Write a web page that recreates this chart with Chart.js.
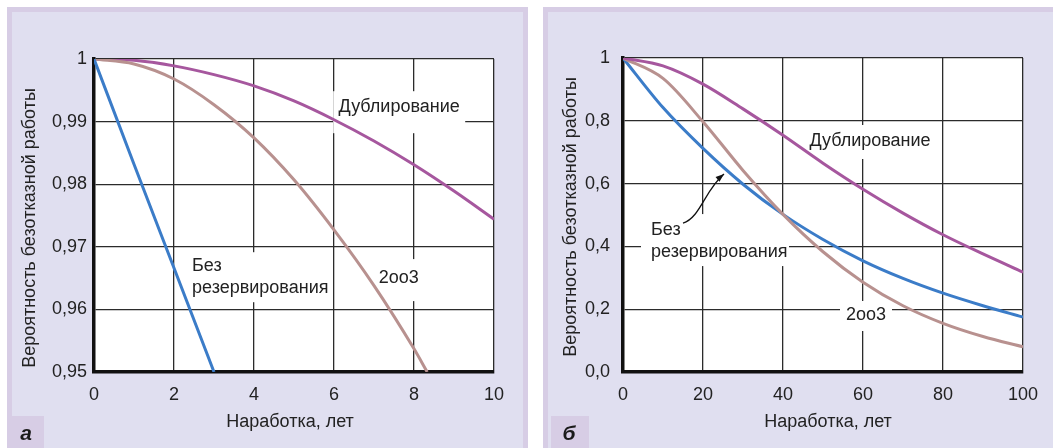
<!DOCTYPE html>
<html>
<head>
<meta charset="utf-8">
<script src="https://cdn.jsdelivr.net/npm/chart.js@4.4.1/dist/chart.umd.min.js"></script>
<style>
  html, body { margin: 0; padding: 0; background: #ffffff; width: 1053px; height: 448px; overflow: hidden; }
  .frame { position: absolute; background: #d7cde5; }
  .inner { position: absolute; background: #e0dff0; }
  canvas { position: absolute; }
</style>
</head>
<body>
<div class="frame" style="left:7px;top:7px;width:521px;height:441px;"></div>
<div class="inner" style="left:12px;top:12px;width:511px;height:436px;"></div>
<div class="frame" style="left:543px;top:7px;width:510px;height:441px;"></div>
<div class="inner" style="left:548px;top:12px;width:505px;height:436px;"></div>
<canvas id="chartA" width="511" height="436" style="left:12px;top:12px;"></canvas>
<canvas id="chartB" width="505" height="436" style="left:548px;top:12px;"></canvas>
<script>
// ---------- Data: panel а (0–10 years) ----------
const yearsNoRedA = [0, 1, 2, 3];
const noRedA      = [1, 0.9832, 0.9666, 0.9500];
const yearsDublA  = [0, 1, 2, 3, 4, 5, 6, 7, 8, 9, 10];
const dublA       = [1, 0.9998, 0.9989, 0.9975, 0.9957, 0.9933, 0.9903, 0.9869, 0.9831, 0.9789, 0.9744];
const years2oo3A  = [0, 1, 2, 3, 4, 5, 6, 7, 8, 8.33];
const twoOfThreeA = [1, 0.9992, 0.9968, 0.9927, 0.9874, 0.9807, 0.9727, 0.9638, 0.9537, 0.9500];
const xTicksA = ['0', '2', '4', '6', '8', '10'];
const yTicksA = ['0,95', '0,96', '0,97', '0,98', '0,99', '1'];

// ---------- Data: panel б (0–100 years) ----------
const yearsB      = [0, 10, 20, 30, 40, 50, 60, 70, 80, 90, 100];
const noRedB      = [1, 0.842, 0.712, 0.598, 0.502, 0.422, 0.354, 0.298, 0.251, 0.211, 0.175];
const dublB       = [1, 0.975, 0.917, 0.838, 0.754, 0.665, 0.582, 0.506, 0.437, 0.376, 0.318];
const twoOfThreeB = [1, 0.935, 0.797, 0.642, 0.502, 0.383, 0.286, 0.211, 0.155, 0.113, 0.080];
const xTicksB = ['0', '20', '40', '60', '80', '100'];
const yTicksB = ['0,0', '0,2', '0,4', '0,6', '0,8', '1'];

const seriesNames = ['Без резервирования', 'Дублирование', '2оо3'];
const yTitle = 'Вероятность безотказной работы';
const xTitle = 'Наработка, лет';

const COLORS = { noRed: '#3b7cc8', dubl: '#a6579e', two: '#b8918f' };
const FONT = '"Liberation Sans", Arial, sans-serif';
const FRAME = '#d7cde5';

function pts(xs, ys) { return xs.map((x, i) => ({ x: x, y: ys[i] })); }

function ds(label, data, color) {
  return {
    label: label, data: data, borderColor: color, borderWidth: 3,
    pointRadius: 0, fill: false, cubicInterpolationMode: 'monotone'
  };
}

function makePlugin(cfg) {
  return {
    id: 'decor',
    beforeDraw(chart) {
      const ctx = chart.ctx, a = chart.chartArea;
      ctx.save();
      ctx.fillStyle = '#ffffff';
      ctx.fillRect(a.left, a.top, a.right - a.left, a.bottom - a.top);
      ctx.fillStyle = FRAME;
      ctx.fillRect(cfg.letterBox[0], cfg.letterBox[1], cfg.letterBox[2], cfg.letterBox[3]);
      ctx.fillStyle = '#1a1a1a';
      ctx.font = 'italic bold 21px ' + FONT;
      ctx.textAlign = 'center';
      ctx.textBaseline = 'alphabetic';
      ctx.fillText(cfg.letter, cfg.letterPos[0], cfg.letterPos[1]);
      ctx.restore();
    },
    beforeDatasetsDraw(chart) {
      const ctx = chart.ctx, xs = chart.scales.x, ys = chart.scales.y;
      ctx.save();
      ctx.fillStyle = '#ffffff';
      cfg.labels.forEach(l => {
        const px = xs.getPixelForValue(l.x), py = ys.getPixelForValue(l.y);
        ctx.fillRect(px + l.box[0], py + l.box[1], l.box[2], l.box[3]);
      });
      ctx.restore();
    },
    afterDatasetsDraw(chart) {
      const ctx = chart.ctx, xs = chart.scales.x, ys = chart.scales.y;
      ctx.save();
      ctx.fillStyle = '#222222';
      ctx.font = '18px ' + FONT;
      ctx.textBaseline = 'middle';
      cfg.labels.forEach(l => {
        const px = xs.getPixelForValue(l.x), py = ys.getPixelForValue(l.y);
        ctx.textAlign = l.align;
        l.lines.forEach((t, i) => ctx.fillText(t, px, py + i * 22));
      });
      if (cfg.arrow) {
        const p = cfg.arrow.map(q => [xs.getPixelForValue(q[0]), ys.getPixelForValue(q[1])]);
        ctx.strokeStyle = '#111111';
        ctx.lineWidth = 1.3;
        ctx.beginPath();
        ctx.moveTo(p[0][0], p[0][1]);
        ctx.bezierCurveTo(p[1][0], p[1][1], p[2][0], p[2][1], p[3][0], p[3][1]);
        ctx.stroke();
        const ang = Math.atan2(p[3][1] - p[2][1], p[3][0] - p[2][0]);
        ctx.fillStyle = '#111111';
        ctx.beginPath();
        ctx.moveTo(p[3][0], p[3][1]);
        ctx.lineTo(p[3][0] - 9 * Math.cos(ang - 0.35), p[3][1] - 9 * Math.sin(ang - 0.35));
        ctx.lineTo(p[3][0] - 9 * Math.cos(ang + 0.35), p[3][1] - 9 * Math.sin(ang + 0.35));
        ctx.closePath();
        ctx.fill();
      }
      ctx.restore();
    },
    afterDraw(chart) {
      const ctx = chart.ctx;
      ctx.save();
      ctx.fillStyle = '#222222';
      ctx.font = '18px ' + FONT;
      ctx.textAlign = 'center';
      ctx.textBaseline = 'middle';
      ctx.fillText(xTitle, cfg.xTitlePos[0], cfg.xTitlePos[1]);
      ctx.translate(cfg.yTitlePos[0], cfg.yTitlePos[1]);
      ctx.rotate(-Math.PI / 2);
      ctx.fillText(yTitle, 0, 0);
      ctx.restore();
    }
  };
}

function makeChart(id, datasets, opt) {
  return new Chart(document.getElementById(id), {
    type: 'line',
    data: { datasets: datasets },
    options: {
      responsive: false,
      animation: false,
      devicePixelRatio: 1,
      layout: { padding: { left: 0, top: opt.padTop, right: opt.padRight, bottom: 0 } },
      plugins: { legend: { display: false }, tooltip: { enabled: false } },
      scales: {
        x: {
          type: 'linear', min: opt.xMin, max: opt.xMax,
          ticks: { stepSize: opt.xStep, padding: 12, color: '#222', font: { family: FONT, size: 18 },
                   callback: (v, i) => opt.xTicks[i] },
          grid: { color: '#2b2b2b', lineWidth: 1.3, drawTicks: false },
          border: { display: true, color: '#111', width: 3.5 },
          afterFit(s) { s.height = opt.xAxisH; }
        },
        y: {
          type: 'linear', min: opt.yMin, max: opt.yMax,
          ticks: { stepSize: opt.yStep, padding: opt.yPad, color: '#222', font: { family: FONT, size: 18 },
                   callback: (v, i) => opt.yTicks[i] },
          grid: { color: '#2b2b2b', lineWidth: 1.3, drawTicks: false },
          border: { display: true, color: '#111', width: 3.5 },
          afterFit(s) { s.width = opt.yAxisW; }
        }
      }
    },
    plugins: [makePlugin(opt.decor)]
  });
}

makeChart('chartA', [
  ds(seriesNames[0], pts(yearsNoRedA, noRedA), COLORS.noRed),
  ds(seriesNames[2], pts(years2oo3A, twoOfThreeA), COLORS.two),
  ds(seriesNames[1], pts(yearsDublA, dublA), COLORS.dubl)
], {
  xMin: 0, xMax: 10, xStep: 2, yMin: 0.95, yMax: 1, yStep: 0.01,
  xTicks: xTicksA, yTicks: yTicksA, padTop: 47, padRight: 29, xAxisH: 76, yAxisW: 82, yPad: 7,
  decor: {
    letter: 'а', letterBox: [0, 404, 32, 32], letterPos: [14, 428],
    xTitlePos: [278, 410], yTitlePos: [18, 216],
    labels: [
      { lines: ['Дублирование'], x: 7.63, y: 0.9923, align: 'center', box: [-66, -16, 132, 42] },
      { lines: ['Без', 'резервирования'], x: 2.45, y: 0.9669, align: 'left', box: [-5, -14, 144, 50] },
      { lines: ['2оо3'], x: 7.62, y: 0.9650, align: 'center', box: [-24, -19, 48, 42] }
    ]
  }
});

makeChart('chartB', [
  ds(seriesNames[1], pts(yearsB, dublB), COLORS.dubl),
  ds(seriesNames[2], pts(yearsB, twoOfThreeB), COLORS.two),
  ds(seriesNames[0], pts(yearsB, noRedB), COLORS.noRed)
], {
  xMin: 0, xMax: 100, xStep: 20, yMin: 0, yMax: 1, yStep: 0.2,
  xTicks: xTicksB, yTicks: yTicksB, padTop: 46, padRight: 30, xAxisH: 76, yAxisW: 75, yPad: 13,
  decor: {
    letter: 'б', letterBox: [3, 404, 38, 32], letterPos: [21, 428],
    xTitlePos: [280, 410], yTitlePos: [23, 205],
    labels: [
      { lines: ['Дублирование'], x: 61.75, y: 0.7357, align: 'center', box: [-66, -16, 132, 34] },
      { lines: ['Без', 'резервирования'], x: 7, y: 0.452, align: 'left', box: [-10, -16, 148, 52] },
      { lines: ['2оо3'], x: 60.75, y: 0.1815, align: 'center', box: [-26, -14, 52, 30] }
    ],
    arrow: [[15, 0.4745], [19.25, 0.49], [20.5, 0.58], [25.25, 0.6306]]
  }
});
</script>
</body>
</html>
